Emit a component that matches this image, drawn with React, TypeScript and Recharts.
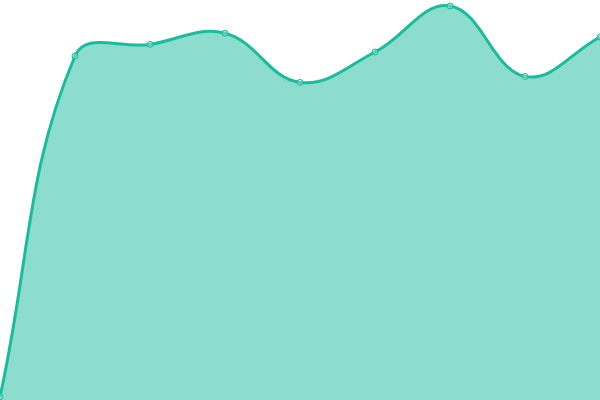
import { AreaChart, Area, XAxis, YAxis } from 'recharts';

const labels = ['A', 'B', 'C', 'D', 'E', 'F', 'G', 'H', 'I'];
const values = [0.8, 86, 88.9, 91.7, 79.4, 87, 98.5, 80.9, 90.75];

const data = labels.map((name, i) => ({ name, value: values[i] }));

// spline with tension 0.4, control points scaled by neighbour distances
const tensionCurve = (context: any) => {
  let xs: number[] = [];
  let ys: number[] = [];
  let line = NaN;
  const t = 0.4;
  return {
    areaStart() { line = 0; },
    areaEnd() { line = NaN; },
    lineStart() { xs = []; ys = []; },
    point(x: number, y: number) { xs.push(+x); ys.push(+y); },
    lineEnd() {
      const n = xs.length;
      if (n) {
        if (line) context.lineTo(xs[0], ys[0]);
        else context.moveTo(xs[0], ys[0]);
        if (n === 2) context.lineTo(xs[1], ys[1]);
        else if (n > 2) {
          const cps = xs.map((x, i) => {
            const p = Math.max(i - 1, 0);
            const nx = Math.min(i + 1, n - 1);
            const d01 = Math.hypot(x - xs[p], ys[i] - ys[p]);
            const d12 = Math.hypot(xs[nx] - x, ys[nx] - ys[i]);
            const sum = d01 + d12 || 1;
            const fa = t * d01 / sum;
            const fb = t * d12 / sum;
            const dx = xs[nx] - xs[p];
            const dy = ys[nx] - ys[p];
            return {
              px: x - fa * dx, py: Math.min(400, Math.max(0, ys[i] - fa * dy)),
              nx: x + fb * dx, ny: Math.min(400, Math.max(0, ys[i] + fb * dy)),
            };
          });
          for (let i = 0; i < n - 1; i++) {
            context.bezierCurveTo(cps[i].nx, cps[i].ny, cps[i + 1].px, cps[i + 1].py, xs[i + 1], ys[i + 1]);
          }
        }
      }
      if (line || (line !== 0 && n === 1)) context.closePath();
      line = 1 - line;
    },
  };
};

const App = () => {
  return (
    <div style={{ position: 'absolute', top: 0, left: 0 }}>
      <AreaChart
        width={600}
        height={400}
        data={data}
        margin={{ top: 0, right: 0, left: 0, bottom: 0 }}
      >
        <XAxis dataKey="name" hide />
        <YAxis domain={[0, 100]} hide />
        <Area
          type={tensionCurve as any}
          dataKey="value"
          stroke="#1abc9c"
          strokeWidth={3}
          fill="#1abc9c"
          fillOpacity={0.5}
          dot={{ r: 3, fill: '#8ddfcf', stroke: '#1abc9c', strokeWidth: 1 }}
          activeDot={false}
          isAnimationActive={false}
        />
      </AreaChart>
    </div>
  );
};

export default App;
